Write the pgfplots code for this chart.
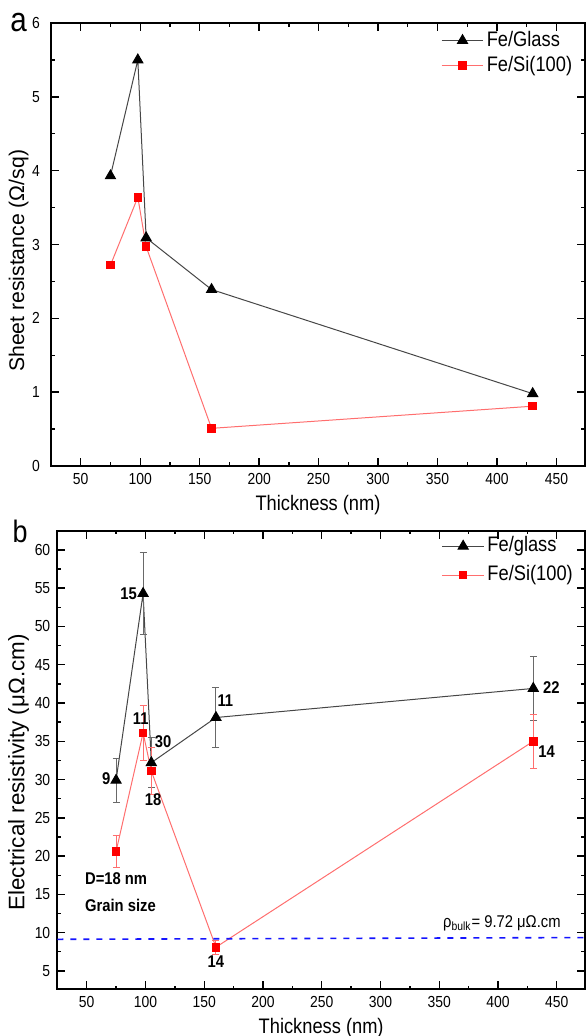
\documentclass[border=0pt]{standalone}
\usepackage{pgfplots}
\pgfplotsset{compat=1.18}
\usepackage{fontspec}
\setmainfont{Liberation Sans}[FakeStretch=0.87]
\newfontfamily\ylfont{Liberation Sans}

\definecolor{glassline}{RGB}{70,70,70}
\definecolor{siline}{RGB}{255,110,110}
\definecolor{sired}{RGB}{255,0,0}
\definecolor{errgray}{RGB}{105,105,105}
\definecolor{bulkblue}{RGB}{20,20,255}

\tikzset{ann/.style={font=\bfseries\fontsize{8.5}{10}\selectfont, inner sep=0pt}}

\begin{document}
\begin{tikzpicture}
\pgfplotsset{
  panel/.style={
    scale only axis, anchor=south west, clip=false,
    xmin=25, xmax=474, xtick={50,100,...,450},
    minor x tick num=1, minor y tick num=1,
    axis line style={line width=1.1pt},
    tick align=inside, major tick length=4pt, minor tick length=1.8pt,
    every tick/.style={black, line width=0.7pt},
    ticklabel style={font=\fontsize{8}{9}\selectfont},
    /pgf/number format/assume math mode=true,
    xlabel style={font=\fontsize{10.5}{12}\selectfont,
      at={(axis description cs:0.5,0)}, anchor=center, yshift=-19.5pt},
    legend cell align=left,
    legend image code/.code={
      \draw[mark repeat=2, mark phase=2, ##1] plot coordinates {(0pt,0pt) (10.4pt,0pt) (20.8pt,0pt)};},
  },
  glass/.style={color=glassline, line width=0.5pt, mark=triangle*, mark size=2.9pt,
    mark options={fill=black, draw=black, solid}},
  si/.style={color=siline, line width=0.5pt, mark=square*, mark size=1.9pt,
    mark options={fill=sired, draw=sired, solid}},
}

% ---------- panel a ----------
\begin{axis}[panel, at={(25.5pt,-233pt)}, width=267pt, height=221.5pt,
  ymin=0, ymax=6, ytick={0,...,6}, yticklabel style={xshift=-2pt},
  xlabel={Thickness (nm)}, ylabel={Sheet resistance (Ω/sq)},
  ylabel style={font=\ylfont\fontsize{10.6}{12}\selectfont,
    at={(axis description cs:0,0.463)}, anchor=center, yshift=16.2pt},
  legend style={draw=none, fill=none, at={(0.730,0.985)}, anchor=north west,
    inner sep=0pt, row sep=2pt,
    nodes={inner sep=0pt, text height=8pt, text depth=2.5pt, font=\fontsize{10.5}{12}\selectfont},
    /tikz/every odd column/.append style={column sep=1.5pt}}]
\addplot[glass] coordinates {(75,3.93) (98,5.50) (105,3.09) (160,2.39) (430,0.98)};
\addlegendentry{Fe/Glass}
\addplot[si] coordinates {(75,2.72) (98,3.64) (105,2.97) (160,0.51) (430,0.81)};
\addlegendentry{Fe/Si(100)}
\end{axis}

% ---------- panel b ----------
\begin{axis}[panel, at={(28.65pt,-494.65pt)}, width=263.85pt, height=229.3pt,
  ymin=2.6, ymax=62.5, ytick={5,10,...,60},
  xlabel={Thickness (nm)}, ylabel={Electrical resistivity (μΩ.cm)},
  ylabel style={font=\ylfont\fontsize{11.2}{12}\selectfont,
    at={(axis description cs:0,0.473)}, anchor=center, yshift=19.3pt},
  legend style={draw=none, fill=none, at={(0.728,0.99)}, anchor=north west,
    inner sep=0pt, row sep=4pt,
    nodes={inner sep=0pt, text height=8pt, text depth=2.5pt, font=\fontsize{10.5}{12}\selectfont},
    /tikz/every odd column/.append style={column sep=1.5pt}}]
\addplot[glass, error bars/.cd, y dir=both, y explicit,
  error bar style={color=errgray, line width=0.5pt},
  error mark options={rotate=90, mark size=1.75pt, line width=0.5pt, color=errgray}]
  coordinates {(75,29.9) +- (0,2.9) (98,54.3) +- (0,5.4) (105,32.2) +- (0,3.3)
               (160,38.1) +- (0,3.9) (430,41.9) +- (0,4.2)};
\addlegendentry{Fe/glass}
\addplot[si, error bars/.cd, y dir=both, y explicit,
  error bar style={color=siline, line width=0.5pt},
  error mark options={rotate=90, mark size=1.75pt, line width=0.5pt, color=siline}]
  coordinates {(75,20.6) +- (0,2.05) (98,36.1) +- (0,3.55) (105,31.1) +- (0,3.1)
               (160,8.1) +- (0,0.9) (430,35.0) +- (0,3.5)};
\addlegendentry{Fe/Si(100)}
\addplot[bulkblue, line width=0.8pt, dash pattern=on 3pt off 3.5pt, forget plot]
  coordinates {(25,9.13) (474,9.36)};
\node[ann, anchor=east] at (axis cs:93,54.3) {15};
\node[ann, anchor=west] at (axis cs:161,40.3) {11};
\node[ann, anchor=west] at (axis cs:438,42) {22};
\node[ann] at (axis cs:96,38) {11};
\node[ann, anchor=west] at (axis cs:107.7,34.9) {30};
\node[ann] at (axis cs:106.5,27.4) {18};
\node[ann, anchor=east] at (axis cs:70.4,30.1) {9};
\node[ann] at (axis cs:160,6.2) {14};
\node[ann, anchor=west] at (axis cs:434,33.7) {14};
\node[ann, anchor=west] at (axis cs:48.3,17.0) {D=18 nm};
\node[ann, anchor=west] at (axis cs:48.3,13.5) {Grain size};
\node[anchor=west, inner sep=0pt, font=\fontsize{8.5}{10}\selectfont] at (axis cs:353,11.2)
  {ρ\textsubscript{bulk}= 9.72 μΩ.cm};
\end{axis}

\node[font=\fontsize{17}{18}\selectfont, inner sep=0pt] at (9.25pt,-11.25pt) {a};
\node[font=\fontsize{15.5}{17}\selectfont, inner sep=0pt] at (10pt,-265.5pt) {b};

\pgfresetboundingbox
\path (0,0) rectangle (293pt,-518pt);
\end{tikzpicture}
\end{document}
